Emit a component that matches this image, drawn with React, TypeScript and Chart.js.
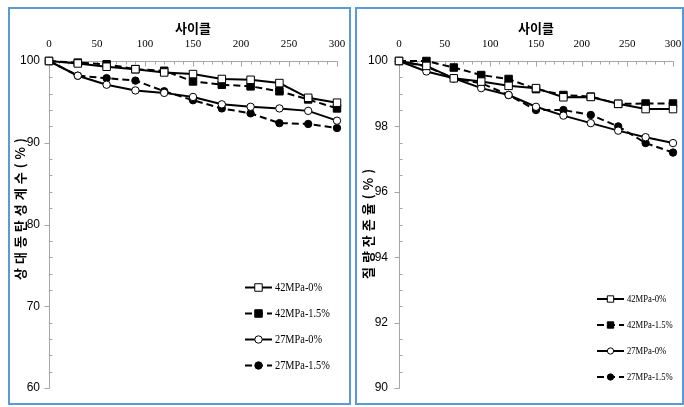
import React, { useEffect, useRef } from 'react';
import { Chart, registerables } from 'chart.js';

Chart.register(...registerables);

// ---------- data ----------
const cycles = [0, 30, 60, 90, 120, 150, 180, 210, 240, 270, 300];
const seriesLabels = ['42MPa-0%', '42MPa-1.5%', '27MPa-0%', '27MPa-1.5%'];

// relative dynamic modulus of elasticity (%)
const rdm42_0 = [100, 99.7, 99.3, 99.0, 98.6, 98.4, 97.8, 97.7, 97.3, 95.5, 94.9];
const rdm42_15 = [100, 99.8, 99.6, 99.0, 98.8, 97.5, 97.1, 96.9, 96.3, 95.3, 94.2];
const rdm27_0 = [100, 98.2, 97.1, 96.4, 96.1, 95.6, 94.7, 94.4, 94.2, 93.9, 92.7];
const rdm27_15 = [100, 98.2, 97.9, 97.6, 96.3, 95.2, 94.2, 93.6, 92.4, 92.3, 91.8];

// mass retention (%)
const mr42_0 = [100, 99.85, 99.47, 99.37, 99.24, 99.17, 98.89, 98.9, 98.69, 98.53, 98.53];
const mr42_15 = [100, 100.0, 99.8, 99.57, 99.45, 99.14, 98.96, 98.91, 98.69, 98.7, 98.7];
const mr27_0 = [100, 99.68, 99.47, 99.17, 98.96, 98.6, 98.33, 98.1, 97.87, 97.67, 97.49];
const mr27_15 = [100, 99.83, 99.47, 99.32, 98.96, 98.5, 98.5, 98.35, 98.0, 97.49, 97.2];

const xTitle = '사이클';
const leftYTitle = '상대동탄성계수(%)';
const rightYTitle = '질량잔존율(%)';

// ---------- styles ----------
const seriesStyles = [
  { pointStyle: 'rect', fill: '#ffffff', dash: [] as number[], radius: 5.3 },
  { pointStyle: 'rect', fill: '#000000', dash: [7, 4], radius: 5.3 },
  { pointStyle: 'circle', fill: '#ffffff', dash: [] as number[], radius: 3.7 },
  { pointStyle: 'circle', fill: '#000000', dash: [7, 4], radius: 3.7 },
];

const decorPlugin = {
  id: 'decor',
  beforeDatasetsDraw(chart: any, _a: any, o: any) {
    const { ctx, chartArea: ca } = chart;
    const xs = chart.scales.x;
    const ys = chart.scales.y;
    ctx.save();
    ctx.strokeStyle = '#a6a6a6';
    ctx.lineWidth = 1;
    const L = Math.round(ca.left) + 0.5;
    const T = Math.round(ca.top) + 0.5;
    const B = Math.round(ca.bottom) + 0.5;
    const R = Math.round(ca.right) + 0.5;
    ctx.beginPath();
    ctx.moveTo(L, T);
    ctx.lineTo(R, T);
    ctx.moveTo(L, T);
    ctx.lineTo(L, B);
    const nx = Math.round((xs.max - xs.min) / o.xMinor);
    for (let k = 0; k <= nx; k++) {
      const v = xs.min + k * o.xMinor;
      const px = Math.round(xs.getPixelForValue(v)) + 0.5;
      const major = Math.abs(v / o.xMajor - Math.round(v / o.xMajor)) < 1e-6;
      ctx.moveTo(px, T);
      ctx.lineTo(px, T + (major ? 5 : 3));
    }
    const ny = Math.round((ys.max - ys.min) / o.yMinor);
    for (let k = 0; k <= ny; k++) {
      const v = ys.min + k * o.yMinor;
      const py = Math.round(ys.getPixelForValue(v)) + 0.5;
      const major = Math.abs((v - ys.min) / o.yMajor - Math.round((v - ys.min) / o.yMajor)) < 1e-6;
      if (major) {
        ctx.moveTo(L - 5, py);
        ctx.lineTo(L, py);
      } else {
        ctx.moveTo(L, py);
        ctx.lineTo(L + 3, py);
      }
    }
    ctx.stroke();
    ctx.restore();
  },
  afterDraw(chart: any, _a: any, o: any) {
    const { ctx } = chart;
    // y title
    ctx.save();
    ctx.translate(o.yTitleX, o.yTitleY);
    ctx.rotate(-Math.PI / 2);
    ctx.font = 'bold 13px "Noto Sans CJK KR", sans-serif';
    try { (ctx as any).letterSpacing = '4px'; } catch (e) { /* ignore */ }
    ctx.textAlign = 'center';
    ctx.textBaseline = 'middle';
    ctx.fillStyle = '#000';
    ctx.fillText(o.yTitle, 0, 0);
    ctx.restore();

    // legend
    chart.data.datasets.forEach((ds: any, i: number) => {
      const st = seriesStyles[i];
      const y = o.legendY + i * o.legendGap;
      const x0 = o.legendX;
      const x1 = o.legendX + 27;
      const cx = (x0 + x1) / 2;
      ctx.save();
      ctx.strokeStyle = '#000';
      ctx.lineWidth = 2;
      ctx.setLineDash(st.dash);
      ctx.beginPath();
      ctx.moveTo(x0, y);
      ctx.lineTo(x1, y);
      ctx.stroke();
      ctx.setLineDash([]);
      ctx.lineWidth = 1;
      ctx.fillStyle = st.fill;
      ctx.beginPath();
      const r = st.radius * o.legendMarkerScale;
      if (st.pointStyle === 'rect') {
        const s = r * Math.SQRT1_2;
        ctx.rect(cx - s, y - s, 2 * s, 2 * s);
      } else {
        ctx.arc(cx, y, r, 0, Math.PI * 2);
      }
      ctx.fill();
      ctx.stroke();
      ctx.translate(x1 + 3, y + 0.5);
      ctx.scale(o.legendScaleX, 1);
      ctx.font = o.legendFontSize + 'px "Liberation Serif", serif';
      ctx.fillStyle = '#000';
      ctx.textAlign = 'left';
      ctx.textBaseline = 'middle';
      ctx.fillText(ds.label, 0, 0);
      ctx.restore();
    });
  },
};

type PanelProps = {
  width: number;
  height: number;
  series: number[][];
  yMin: number;
  yMax: number;
  yStep: number;
  yMinor: number;
  yTitle: string;
  yAxisWidth: number;
  yTickPad: number;
  padRight: number;
  padBottom: number;
  yTitleX: number;
  yTitleY: number;
  legendX: number;
  legendY: number;
  legendFontSize: number;
  legendScaleX: number;
  legendMarkerScale: number;
};

function Panel(p: PanelProps) {
  const ref = useRef<HTMLCanvasElement | null>(null);
  useEffect(() => {
    if (!ref.current) return;
    const datasets = p.series.map((vals, i) => {
      const st = seriesStyles[i];
      return {
        label: seriesLabels[i],
        data: cycles.map((c, j) => ({ x: c, y: vals[j] })),
        borderColor: '#000',
        borderWidth: 2,
        borderDash: st.dash,
        pointStyle: st.pointStyle,
        pointRadius: st.radius,
        pointBackgroundColor: st.fill,
        pointBorderColor: '#000',
        pointBorderWidth: 1,
        tension: 0,
        fill: false,
        clip: false,
      };
    });
    const chart = new Chart(ref.current, {
      type: 'line',
      data: { datasets },
      plugins: [decorPlugin],
      options: {
        responsive: false,
        animation: false,
        devicePixelRatio: 1,
        layout: { padding: { left: 0, top: 0, right: p.padRight, bottom: p.padBottom } },
        plugins: {
          legend: { display: false },
          tooltip: { enabled: false },
          decor: {
            xMinor: 10,
            xMajor: 50,
            yMinor: p.yMinor,
            yMajor: p.yStep,
            yTitle: p.yTitle,
            yTitleX: p.yTitleX,
            yTitleY: p.yTitleY,
            legendX: p.legendX,
            legendY: p.legendY,
            legendGap: 26,
            legendFontSize: p.legendFontSize,
            legendScaleX: p.legendScaleX,
            legendMarkerScale: p.legendMarkerScale,
          },
        } as any,
        scales: {
          x: {
            type: 'linear',
            position: 'top',
            min: 0,
            max: 300,
            ticks: {
              stepSize: 50,
              padding: 10,
              color: '#000',
              maxRotation: 0,
              autoSkip: false,
              font: { family: '"Liberation Serif", serif', size: 11 },
            },
            grid: { display: false, drawTicks: false },
            border: { display: false },
            title: {
              display: true,
              text: xTitle,
              color: '#000',
              font: { family: '"Noto Sans CJK KR", sans-serif', size: 13, weight: 'bold' },
              padding: { top: 11, bottom: 0 },
            },
            afterFit: (s: any) => {
              s.height = 52;
              s.paddingLeft = 0;
              s.paddingRight = 0;
            },
          },
          y: {
            type: 'linear',
            min: p.yMin,
            max: p.yMax,
            ticks: {
              stepSize: p.yStep,
              padding: p.yTickPad,
              color: '#000',
              font: { family: '"Liberation Sans Narrow", "Liberation Sans", sans-serif', size: 12 },
            },
            grid: { display: false, drawTicks: false },
            border: { display: false },
            afterFit: (s: any) => {
              s.width = p.yAxisWidth;
              s.paddingTop = 0;
              s.paddingBottom = 0;
            },
          },
        },
      } as any,
    });
    return () => chart.destroy();
  }, []);
  return <canvas ref={ref} width={p.width} height={p.height} style={{ display: 'block' }} />;
}

export default function App() {
  const boxStyle = (left: number, width: number): React.CSSProperties => ({
    position: 'absolute',
    left,
    top: 7,
    width,
    height: 398,
    boxSizing: 'border-box',
    border: '2px solid #5b9bd5',
    background: '#fff',
  });
  return (
    <div style={{ position: 'absolute', left: 0, top: 0, width: 684, height: 407, background: '#fff' }}>
      <div style={boxStyle(8, 343)}>
        <Panel
          width={339}
          height={394}
          series={[rdm42_0, rdm42_15, rdm27_0, rdm27_15]}
          yMin={60}
          yMax={100}
          yStep={10}
          yMinor={2}
          yTitle={leftYTitle}
          yAxisWidth={39}
          yTickPad={9}
          padRight={12}
          padBottom={15}
          yTitleX={10}
          yTitleY={198}
          legendX={235}
          legendY={278.5}
          legendFontSize={11.5}
          legendScaleX={0.9}
          legendMarkerScale={1}
        />
      </div>
      <div style={boxStyle(355, 329)}>
        <Panel
          width={325}
          height={394}
          series={[mr42_0, mr42_15, mr27_0, mr27_15]}
          yMin={90}
          yMax={100}
          yStep={2}
          yMinor={0.5}
          yTitle={rightYTitle}
          yAxisWidth={42}
          yTickPad={11}
          padRight={9}
          padBottom={15}
          yTitleX={11}
          yTitleY={213}
          legendX={240}
          legendY={290}
          legendFontSize={10.5}
          legendScaleX={0.82}
          legendMarkerScale={0.85}
        />
      </div>
    </div>
  );
}
